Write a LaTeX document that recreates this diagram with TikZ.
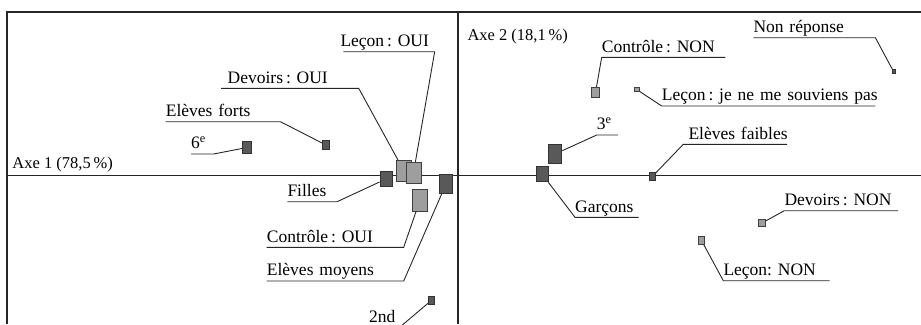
\documentclass[tikz,border=0pt]{standalone}
\usepackage{fontspec}
\setmainfont{Liberation Serif}
\usetikzlibrary{positioning}
\frenchspacing
\tikzstyle{dark}=[rectangle, draw=black!80, fill=black!65, line width=0.8pt, inner sep=0pt]
\tikzstyle{light}=[rectangle, draw=black!75, fill=black!38, line width=0.8pt, inner sep=0pt]
\tikzstyle{tag}=[inner xsep=0pt, inner ysep=5pt, text depth=0pt, anchor=south west, align=left, font=\fontsize{17.5}{20}\selectfont]
\tikzstyle{axlabel}=[inner sep=0pt, anchor=base west, font=\fontsize{16.5}{19}\selectfont]
\tikzstyle{leader}=[draw=black!85, line width=0.9pt]
\tikzstyle{axis}=[draw=black!85, line width=1.2pt]
\tikzstyle{frame}=[draw=black!85, line width=2pt]
\tikzset{sz/.style 2 args={minimum width=#1pt, minimum height=#2pt}}

\begin{document}
\begin{tikzpicture}[x=1pt, y=-1pt]
    \useasboundingbox (0,0) rectangle (921,324);

    % Frame and axes.
    \draw[frame] (7,324) -- (7,12) -- (921,12);
    \draw[axis] (7,175.5) -- (921,175.5);
    \draw[axis] (458,12) -- (458,324);
    \node[axlabel] (ax1) at (12.3,168) {Axe 1 (78,5\,\%)};
    \node[axlabel] (ax2) at (467.3,40) {Axe 2 (18,1\,\%)};

    % Left of axis 2.
    \node[dark, sz={9}{11.7}] (sixe) at (247,147.5) {};
    \node[dark, sz={6.3}{8.6}] (forts) at (326,145) {};
    \node[dark, sz={12}{15.6}] (filles) at (386,179) {};
    \node[light, sz={15}{21}] (devoui) at (404,171) {};
    \node[light, sz={15}{21}] (lecoui) at (413.5,172.7) {};
    \node[light, sz={15}{22}] (ctroui) at (420,200) {};
    \node[dark, sz={12.7}{19}] (moyens) at (446,184) {};
    \node[dark, sz={6}{8}] (scnd) at (431.3,300.5) {};

    % Right of axis 2.
    \node[dark, sz={13.7}{19}] (troise) at (555,154) {};
    \node[dark, sz={12}{15.7}] (garcons) at (542,174) {};
    \node[dark, sz={6}{8.4}] (faibles) at (652.3,176.5) {};
    \node[light, sz={7.7}{10.3}] (ctrnon) at (595.5,92.5) {};
    \node[light, sz={5}{4.5}] (lecsouv) at (636.7,89.5) {};
    \node[dark, sz={3}{4}] (nonrep) at (893.5,71.5) {};
    \node[light, sz={6.7}{7.3}] (devnon) at (762,223) {};
    \node[light, sz={6.3}{7.7}] (lecnon) at (701.5,240.5) {};

    % Labels, left.
    \node[tag, text width=22.3pt] (l6) at (191,154) {6\textsuperscript{e}};
    \draw[leader] (sixe) -- (l6.south east) -- (l6.south west);
    \node[tag, text width=114.3pt] (lforts) at (165.7,121.7) {Elèves forts};
    \draw[leader] (forts) -- (lforts.south east) -- (lforts.south west);
    \node[tag, text width=137.3pt] (ldevoui) at (221,88.3) {\mbox{\hspace*{6.5pt}Devoirs\,: OUI}};
    \draw[leader] (devoui) -- (ldevoui.south east) -- (ldevoui.south west);
    \node[tag, text width=91pt] (llecoui) at (343.3,51.7) {\mbox{\hspace*{-3pt}Leçon\,: OUI}};
    \draw[leader] (lecoui) -- (llecoui.south east) -- (llecoui.south west);
    \node[tag, text width=49.4pt] (lfilles) at (287.3,201.7) {Filles};
    \draw[leader] (filles) -- (lfilles.south east) -- (lfilles.south west);
    \node[tag, text width=136.6pt] (lctroui) at (266.7,247.3) {Contrôle\,: OUI};
    \draw[leader] (ctroui) -- (lctroui.south east) -- (lctroui.south west);
    \node[tag, text width=136.6pt] (lmoyens) at (266.7,281) {Elèves moyens};
    \draw[leader] (moyens) -- (lmoyens.south east) -- (lmoyens.south west);
    \node[tag, text width=30pt] (l2) at (369,327.5) {2nd};
    \draw[leader] (scnd) -- (l2.south east) -- (l2.south west);

    % Labels, right.
    \node[tag, text width=21pt] (l3) at (596.7,135) {3\textsuperscript{e}};
    \draw[leader] (troise) -- (l3.south west) -- (l3.south east);
    \node[tag, text width=63.3pt] (lgarcons) at (575,217.3) {\mbox{Garçons}};
    \draw[leader] (garcons) -- (lgarcons.south west) -- (lgarcons.south east);
    \node[tag, text width=103.4pt] (lfaibles) at (683.3,144.3) {\mbox{\hspace*{5pt}Elèves faibles}};
    \draw[leader] (faibles) -- (lfaibles.south west) -- (lfaibles.south east);
    \node[tag, text width=123.3pt] (lctrnon) at (601.7,57.3) {Contrôle\,: NON};
    \draw[leader] (ctrnon) -- (lctrnon.south west) -- (lctrnon.south east);
    \node[tag, text width=213.3pt] (llecsouv) at (661.7,106) {\mbox{Leçon\,: je ne me souviens pas}};
    \draw[leader] (lecsouv) -- (llecsouv.south west) -- (llecsouv.south east);
    \node[tag, text width=121.7pt] (lnonrep) at (753.3,37.7) {Non réponse};
    \draw[leader] (nonrep) -- (lnonrep.south east) -- (lnonrep.south west);
    \node[tag, text width=113.4pt] (ldevnon) at (784.3,210.7) {Devoirs\,: NON};
    \draw[leader] (devnon) -- (ldevnon.south west) -- (ldevnon.south east);
    \node[tag, text width=106pt] (llecnon) at (723.3,280.7) {Leçon: NON};
    \draw[leader] (lecnon) -- (llecnon.south west) -- (llecnon.south east);
\end{tikzpicture}
\end{document}
